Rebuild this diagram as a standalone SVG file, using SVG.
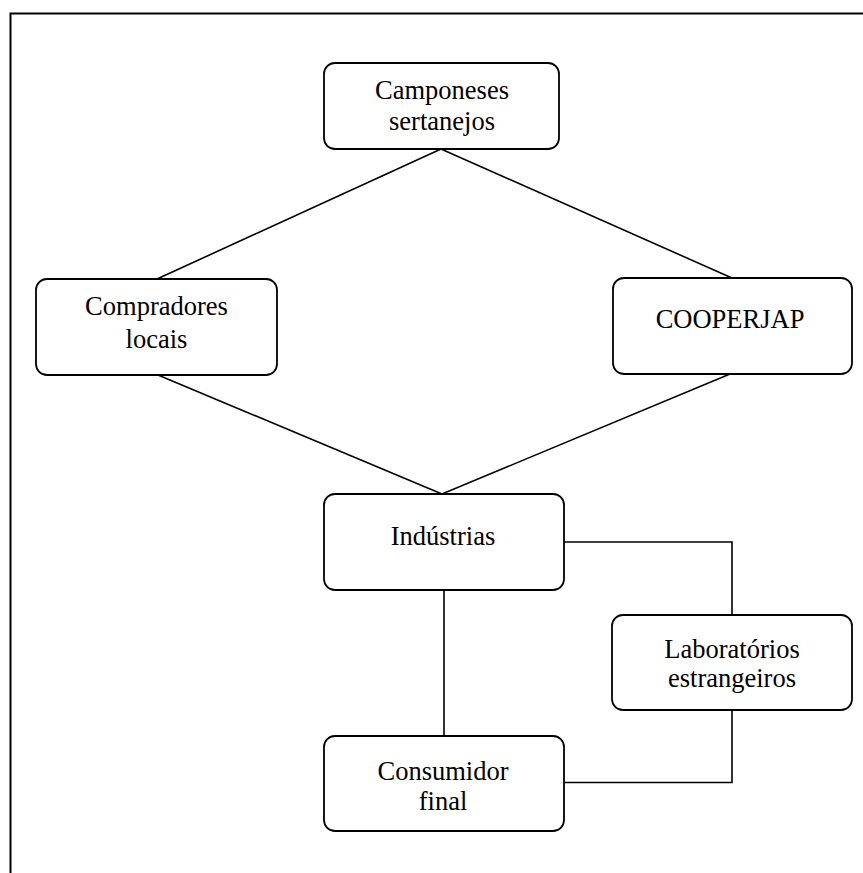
<svg xmlns="http://www.w3.org/2000/svg" width="863" height="873" viewBox="0 0 863 873">
<style>
.box{fill:#fff;stroke:#000;stroke-width:1.8}
.ln{fill:none;stroke:#000;stroke-width:1.6}
.t{font-family:"Liberation Serif","Times New Roman",serif;font-size:26.5px;fill:#000;text-anchor:middle}
</style>
<rect width="863" height="873" fill="#fff"/>
<path d="M10.5,873 V13.5 H863" fill="none" stroke="#000" stroke-width="2"/>
<g id="connectors" class="ln">
<line x1="441" y1="149" x2="157" y2="279"/>
<line x1="441" y1="149" x2="732" y2="278"/>
<line x1="158" y1="375" x2="442" y2="494"/>
<line x1="730" y1="374" x2="442" y2="494"/>
<polyline points="564,542 732,542 732,615"/>
<line x1="444" y1="590" x2="444" y2="736"/>
<polyline points="732,710 732,782.5 564,782.5"/>
</g>
<g id="camponeses">
<rect class="box" x="324" y="63" width="235" height="86" rx="11"/>
<text class="t" x="442" y="99">Camponeses</text>
<text class="t" x="442" y="130">sertanejos</text>
</g>
<g id="compradores">
<rect class="box" x="36" y="279" width="241" height="96" rx="11"/>
<text class="t" x="156.5" y="315">Compradores</text>
<text class="t" x="156.5" y="348">locais</text>
</g>
<g id="cooperjap">
<rect class="box" x="613" y="278" width="239" height="96" rx="11"/>
<text class="t" x="730" y="328">COOPERJAP</text>
</g>
<g id="industrias">
<rect class="box" x="324" y="494" width="240" height="96" rx="11"/>
<text class="t" x="443" y="545">Indústrias</text>
</g>
<g id="laboratorios">
<rect class="box" x="612" y="615" width="240" height="95" rx="11"/>
<text class="t" x="732" y="658">Laboratórios</text>
<text class="t" x="732" y="687">estrangeiros</text>
</g>
<g id="consumidor">
<rect class="box" x="324" y="736" width="240" height="95" rx="11"/>
<text class="t" x="443" y="780">Consumidor</text>
<text class="t" x="443" y="810">final</text>
</g>
</svg>
